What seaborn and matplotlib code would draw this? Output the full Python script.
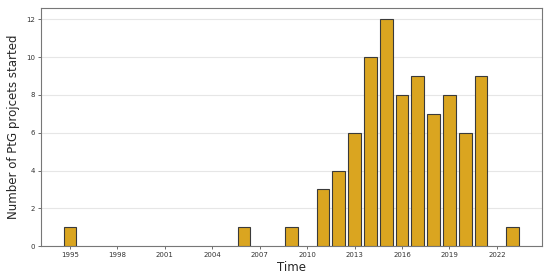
#!/usr/bin/env python3
"""Bar chart of PtG projects started per year."""

import matplotlib
matplotlib.use("Agg")
import matplotlib.pyplot as plt
import seaborn as sns

years = [1995, 2006, 2009, 2011, 2012, 2013, 2014, 2015, 2016, 2017, 2018, 2019, 2020, 2021, 2023]
projects = [1, 1, 1, 3, 4, 6, 10, 12, 8, 9, 7, 8, 6, 9, 1]
xticks = list(range(1995, 2023, 3))
yticks = [0, 2, 4, 6, 8, 10, 12]

sns.set_style("white")
plt.rcParams["font.family"] = ["DejaVu Sans"]

fig = plt.figure(figsize=(5.5, 2.79), dpi=100)
ax = fig.add_axes([0.0745, 0.118, 0.9105, 0.853])

sns.barplot(
    x=years, y=projects, native_scale=True, ax=ax,
    color="#DAA520", saturation=1, width=0.8,
    edgecolor="#3a3a3a", linewidth=0.8, zorder=3,
)

ax.set_xlim(1993.16, 2024.84)
ax.set_ylim(0, 12.6)
ax.set_xticks(xticks)
ax.set_xticklabels([str(y) for y in xticks])
ax.set_yticks(yticks)
ax.yaxis.grid(True, color="#e6e6e6", linewidth=0.8, zorder=0)
ax.tick_params(axis="both", labelsize=5, length=2.5, width=0.6, color="#555555",
               labelcolor="#333333", pad=2, bottom=True, left=True)
for s in ax.spines.values():
    s.set_color("#777777")
    s.set_linewidth(0.8)

ax.set_xlabel("Time", fontsize=8.5, labelpad=2)
ax.set_ylabel("Number of PtG projcets started", fontsize=8.5, labelpad=4)

fig.savefig("out.png", dpi=100)
